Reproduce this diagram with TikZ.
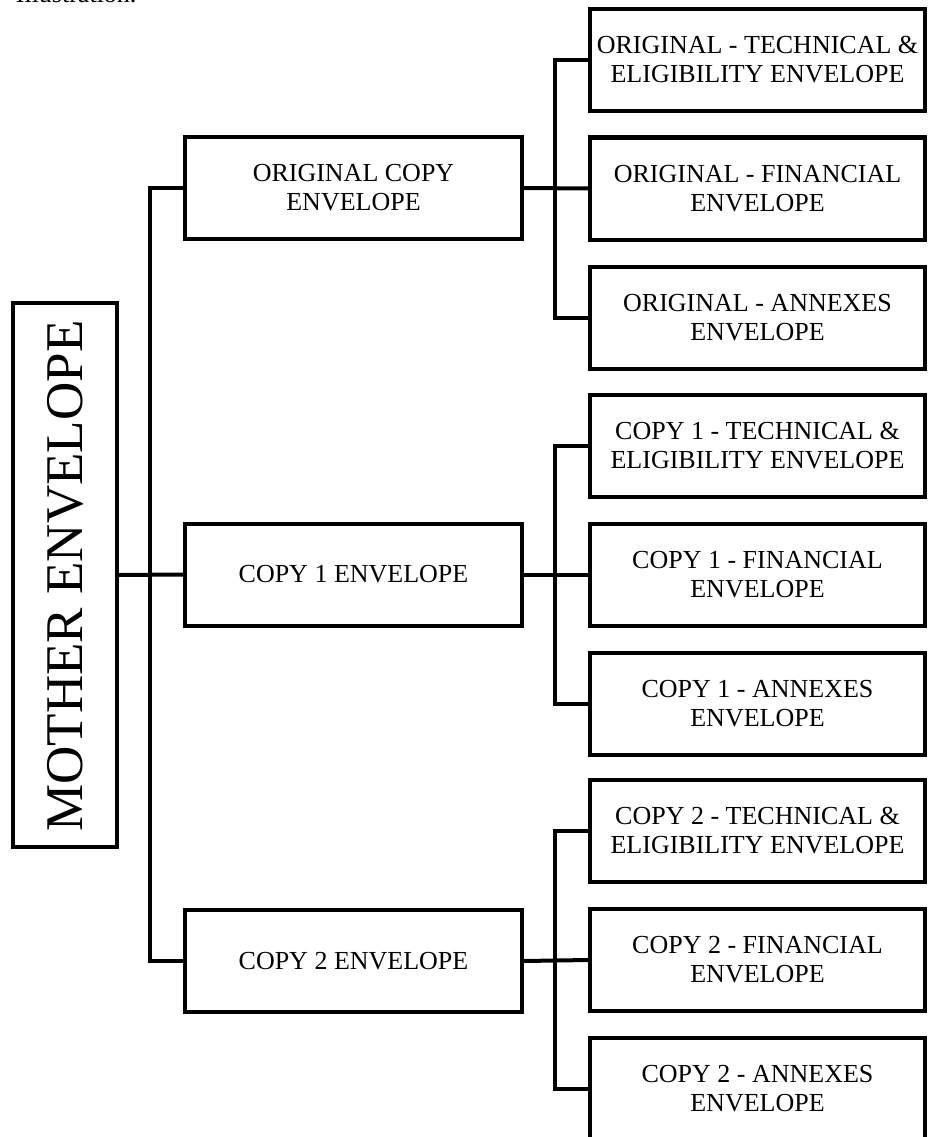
\documentclass[tikz,border=0pt]{standalone}
\usepackage{fontspec}
\setmainfont{Liberation Serif}
\begin{document}
\begin{tikzpicture}[x=1pt,y=-1pt,
  box/.style={draw=black,line width=4pt,align=center,inner sep=0pt,
    font=\fontsize{26}{29}\selectfont},
  lvtwo/.style={box,minimum width=337pt,minimum height=102pt},
  lvthree/.style={box,minimum width=335pt,minimum height=102pt},
  conn/.style={draw=black,line width=4pt}]
\useasboundingbox (0,0) rectangle (928,1137);
\node[anchor=base east,font=\fontsize{26}{29}\selectfont] (frag) at (140,3) {Illustration.};
% mother
\node[box,minimum width=104pt,minimum height=544pt] (mother) at (65,575) {};
\node[rotate=90,font=\fontsize{53}{60}\selectfont,inner sep=0pt] (mtext) at (65,576) {MOTHER ENVELOPE};
% level 2
\node[lvtwo] (oa) at (353.5,188) {ORIGINAL COPY\\ENVELOPE};
\node[lvtwo] (ca) at (353.5,574.5) {COPY 1 ENVELOPE};
\node[lvtwo] (cb) at (353.5,961) {COPY 2 ENVELOPE};
% level 3
\node[lvthree] (o1) at (757.5,60) {ORIGINAL - TECHNICAL \&\\ELIGIBILITY ENVELOPE};
\node[lvthree] (o2) at (757.5,188.5) {ORIGINAL - FINANCIAL\\ENVELOPE};
\node[lvthree] (o3) at (757.5,317.5) {ORIGINAL - ANNEXES\\ENVELOPE};
\node[lvthree] (a1) at (757.5,446) {COPY 1 - TECHNICAL \&\\ELIGIBILITY ENVELOPE};
\node[lvthree] (a2) at (757.5,574.5) {COPY 1 - FINANCIAL\\ENVELOPE};
\node[lvthree] (a3) at (757.5,703.5) {COPY 1 - ANNEXES\\ENVELOPE};
\node[lvthree] (b1) at (757.5,831) {COPY 2 - TECHNICAL \&\\ELIGIBILITY ENVELOPE};
\node[lvthree] (b2) at (757.5,960) {COPY 2 - FINANCIAL\\ENVELOPE};
\node[lvthree] (b3) at (757.5,1088.5) {COPY 2 - ANNEXES\\ENVELOPE};
% connectors
\draw[conn] (mother.east) -- (ca.west);
\draw[conn] (oa.west) -- ++(-33,0) |- (cb.west);
\draw[conn] (oa.east) -- (o2.west);
\draw[conn] (o1.west) -- ++(-33,0) |- (o3.west);
\draw[conn] (ca.east) -- (a2.west);
\draw[conn] (a1.west) -- ++(-33,0) |- (a3.west);
\draw[conn] (cb.east) -- (b2.west);
\draw[conn] (b1.west) -- ++(-33,0) |- (b3.west);
\end{tikzpicture}
\end{document}
